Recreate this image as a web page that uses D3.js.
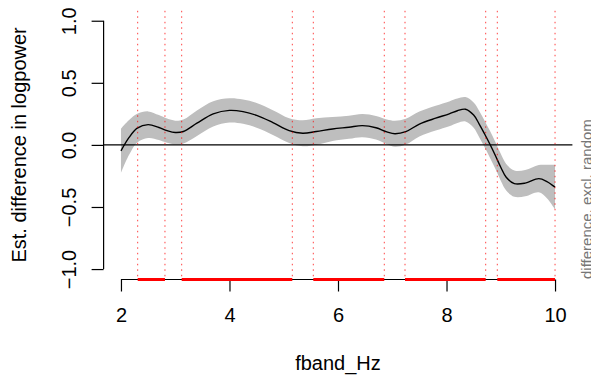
<!DOCTYPE html>
<html>
<head>
<meta charset="utf-8">
<script src="https://cdn.jsdelivr.net/npm/d3@7"></script>
<style>
  body { margin: 0; background: #fff; }
  text { font-family: "Liberation Sans", Arial, Helvetica, sans-serif; }
</style>
</head>
<body>
<script>
// Constant
const w = 591;
const h = 378;

// Data
const fband = [2.0, 2.15, 2.3, 2.5, 2.7, 2.85, 3.0, 3.15, 3.4, 3.7, 4.0, 4.25, 4.5, 4.8, 5.1, 5.35, 5.6, 5.9, 6.2, 6.45,
  6.7, 6.9, 7.05, 7.25, 7.5, 7.8, 8.05, 8.2, 8.35, 8.5, 8.6, 8.7, 8.8, 8.9, 9.0, 9.1, 9.25, 9.45, 9.7, 9.85, 10.0];
const estimate = [-0.048, 0.06, 0.135, 0.163, 0.14, 0.115, 0.1, 0.108, 0.175, 0.25, 0.278, 0.268, 0.238, 0.18, 0.115, 0.094, 0.108, 0.128, 0.142, 0.155,
  0.138, 0.105, 0.09, 0.107, 0.168, 0.215, 0.25, 0.275, 0.287, 0.24, 0.17, 0.09, 0.005, -0.085, -0.18, -0.26, -0.312, -0.308, -0.272, -0.295, -0.34];
const ciHalf = [0.178, 0.14, 0.115, 0.107, 0.1, 0.097, 0.095, 0.097, 0.103, 0.102, 0.098, 0.098, 0.1, 0.1, 0.1, 0.105, 0.107, 0.097, 0.093, 0.093,
  0.095, 0.1, 0.105, 0.104, 0.1, 0.1, 0.1, 0.098, 0.098, 0.102, 0.106, 0.107, 0.108, 0.108, 0.108, 0.107, 0.106, 0.106, 0.11, 0.135, 0.18];
// intervals where the difference is significant
const sigStart = [2.308, 3.119, 5.545, 7.235, 8.936];
const sigEnd = [2.811, 5.158, 6.853, 8.722, 10.0];
const xTicks = [2, 4, 6, 8, 10];
const yTicks = [-1, -0.5, 0, 0.5, 1];

const rows = fband.map((f, i) => ({ f: f, est: estimate[i], lo: estimate[i] - ciHalf[i], hi: estimate[i] + ciHalf[i] }));
const sig = sigStart.map((s, i) => ({ s: s, e: sigEnd[i] }));

// Create the svg canvas
var svg = d3.select('body')
  .append('svg')
  .attr('width', w)
  .attr('height', h);

// scales (R style 4% padding)
var x = d3.scaleLinear().domain([1.68, 10.32]).range([103.6, 572.4]);
var y = d3.scaleLinear().domain([-1.08, 1.08]).range([279, 10.8]);

// confidence band
svg.append('path')
  .datum(rows)
  .attr('d', d3.area().x(d => x(d.f)).y0(d => y(d.lo)).y1(d => y(d.hi)).curve(d3.curveCatmullRom.alpha(0.5)))
  .style('fill', '#bebebe');

// zero line
svg.append('line')
  .attr('x1', x.range()[0]).attr('x2', x.range()[1])
  .attr('y1', y(0)).attr('y2', y(0))
  .style('stroke', '#000').style('stroke-width', 1.2);

// estimate
svg.append('path')
  .datum(rows)
  .attr('d', d3.line().x(d => x(d.f)).y(d => y(d.est)).curve(d3.curveCatmullRom.alpha(0.5)))
  .style('fill', 'none')
  .style('stroke', '#000')
  .style('stroke-width', 1.4);

// x axis
var xAxis = svg.append('g')
  .attr('transform', 'translate(0,' + 279.5 + ')')
  .call(d3.axisBottom(x).tickValues(xTicks).tickSize(12).tickSizeOuter(0).tickPadding(16));
xAxis.select('.domain').remove();
xAxis.append('line')
  .attr('x1', x(2)).attr('x2', x(10))
  .style('stroke', '#000');
xAxis.selectAll('line').style('stroke-width', 1.2);
xAxis.selectAll('text')
  .style('font-size', '20px')
  .style('fill', '#000')
  .attr('dy', null)
  .attr('y', 42.5);

// y axis
var yAxis = svg.append('g')
  .attr('transform', 'translate(' + 103.6 + ',0)')
  .call(d3.axisLeft(y).tickValues(yTicks).tickSize(12).tickSizeOuter(0).tickFormat(d3.format('.1f')));
yAxis.select('.domain').remove();
yAxis.append('line')
  .attr('y1', y(-1)).attr('y2', y(1))
  .style('stroke', '#000');
yAxis.selectAll('line').style('stroke-width', 1.2);
yAxis.selectAll('text')
  .style('font-size', '20px')
  .style('fill', '#000')
  .attr('x', null).attr('dy', null)
  .attr('text-anchor', 'middle')
  .attr('transform', 'translate(-27.6,0) rotate(-90)');

// significant intervals: dotted borders
svg.selectAll('.sigline')
  .data(sigStart.concat(sigEnd))
  .enter()
  .append('line')
  .attr('class', 'sigline')
  .attr('x1', d => x(d)).attr('x2', d => x(d))
  .attr('y1', y.range()[1]).attr('y2', y.range()[0])
  .style('stroke', '#ff0000')
  .style('stroke-opacity', 0.75)
  .style('stroke-width', 1)
  .style('stroke-dasharray', '1.5,4');

// significant intervals: bars on the x axis
svg.selectAll('.sigbar')
  .data(sig)
  .enter()
  .append('line')
  .attr('class', 'sigbar')
  .attr('x1', d => x(d.s)).attr('x2', d => x(d.e))
  .attr('y1', 279.5).attr('y2', 279.5)
  .style('stroke', '#ff0000')
  .style('stroke-width', 3);

// titles
svg.append('text')
  .attr('x', (x.range()[0] + x.range()[1]) / 2)
  .attr('y', 370)
  .attr('text-anchor', 'middle')
  .style('font-size', '20px')
  .text('fband_Hz');

svg.append('text')
  .attr('transform', 'translate(26,' + y(0) + ') rotate(-90)')
  .attr('text-anchor', 'middle')
  .style('font-size', '20px')
  .text('Est. difference in logpower');

// side note, starts at the bottom of the plot region
svg.append('text')
  .attr('transform', 'translate(591.5,' + y.range()[0] + ') rotate(-90)')
  .attr('text-anchor', 'start')
  .style('font-size', '15px')
  .style('fill', '#777')
  .text('difference, excl. random');
</script>
</body>
</html>
